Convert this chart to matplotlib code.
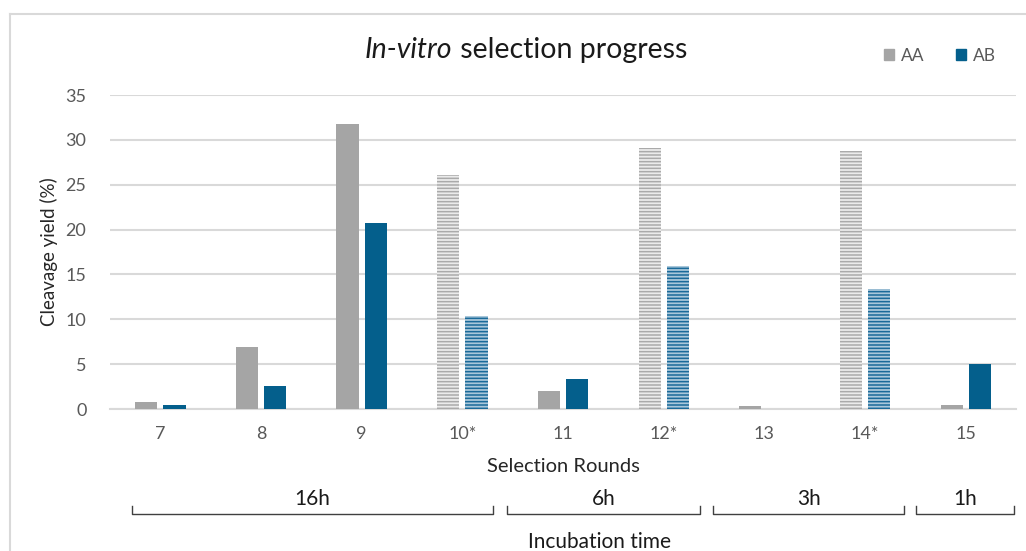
import matplotlib
matplotlib.use("Agg")
import matplotlib.pyplot as plt
import matplotlib.transforms as mtransforms
from matplotlib.lines import Line2D
import numpy as np

# ---- data ----
rounds = ["7", "8", "9", "10*", "11", "12*", "13", "14*", "15"]
aa_values = [0.8, 6.9, 31.8, 26.1, 2.0, 29.1, 0.3, 28.8, 0.45]
ab_values = [0.45, 2.55, 20.7, 10.4, 3.3, 15.9, 0.0, 13.4, 5.0]
hatched = [False, False, False, True, False, True, False, True, False]
incubation_labels = ["16h", "6h", "3h", "1h"]
y_ticks = [0, 5, 10, 15, 20, 25, 30, 35]

# ---- style ----
FONT = ["Lato", "DejaVu Sans"]
plt.rcParams["font.family"] = FONT
plt.rcParams["hatch.linewidth"] = 1.1
GRID = "#d9d9d9"
AA_COL = "#a5a5a5"
AB_COL = "#045f8c"
AA_HFACE, AA_HLINE = "#ebebeb", "#aaaaaa"
AB_HFACE, AB_HLINE = "#a9c7da", "#1a6a99"
TICK_COL = "#595959"

W, H = 1026, 551
fig = plt.figure(figsize=(W / 100, H / 100), dpi=100)
ax = fig.add_axes([110 / W, (H - 409) / H, (1016 - 110) / W, (409 - 95) / H])

x = np.arange(len(rounds))
bw = 0.22
off = 0.14
for i in range(len(rounds)):
    if hatched[i]:
        ax.bar(x[i] - off, aa_values[i], bw, facecolor=AA_HFACE, edgecolor=AA_HLINE,
               linewidth=0, hatch="-----", zorder=3)
        ax.bar(x[i] + off, ab_values[i], bw, facecolor=AB_HFACE, edgecolor=AB_HLINE,
               linewidth=0, hatch="-----", zorder=3)
    else:
        ax.bar(x[i] - off, aa_values[i], bw, color=AA_COL, linewidth=0, zorder=3)
        ax.bar(x[i] + off, ab_values[i], bw, color=AB_COL, linewidth=0, zorder=3)

ax.set_xlim(-0.5, len(rounds) - 0.5)
ax.set_ylim(0, 35)
ax.set_yticks(y_ticks)
ax.set_xticks(x)
ax.set_xticklabels(rounds)
ax.grid(axis="y", color=GRID, linewidth=1.5, zorder=0)
ax.set_axisbelow(True)
for s in ["top", "right", "left"]:
    ax.spines[s].set_visible(False)
ax.spines["bottom"].set_color(GRID)
ax.spines["bottom"].set_linewidth(1.5)
ax.tick_params(axis="both", length=0, labelsize=13, colors=TICK_COL)
ax.tick_params(axis="y", pad=17)
ax.tick_params(axis="x", pad=12)
ax.set_ylabel("Cleavage yield (%)", fontsize=13.5, color="#262626", labelpad=5)
ax.set_xlabel("Selection Rounds", fontsize=14.5, color="#262626", labelpad=12)

# chart frame
fig.add_artist(Line2D([10 / W, 10 / W], [0, 1 - 14 / H], transform=fig.transFigure,
                      color=GRID, linewidth=1.5))
fig.add_artist(Line2D([10 / W, 1], [1 - 14 / H, 1 - 14 / H], transform=fig.transFigure,
                      color=GRID, linewidth=1.5))

# incubation brackets (x in data units, y in figure units)
trans = mtransforms.blended_transform_factory(ax.transData, fig.transFigure)
spans = [(-0.28, 3.30), (3.44, 5.36), (5.49, 7.39), (7.51, 8.48)]
y_line = 1 - 514 / H
y_tick = 1 - 506 / H
for (x0, x1), lab in zip(spans, incubation_labels):
    fig.add_artist(Line2D([x0, x0, x1, x1], [y_tick, y_line, y_line, y_tick],
                          transform=trans, color="#404040", linewidth=1.0))
    fig.text((x0 + x1) / 2, 1 - 499 / H, lab, transform=trans, ha="center",
             va="center", fontsize=15, color="#1a1a1a")
fig.text(600 / W, 1 - 542 / H, "Incubation time", ha="center", va="center",
         fontsize=15, color="#1a1a1a")

# title with italic part
fig.canvas.draw()
r = fig.canvas.get_renderer()
ty = 1 - 50 / H
t1 = fig.text(0, ty, "In-vitro", style="italic", fontsize=20.5, ha="left", va="center",
              color="#1a1a1a")
t2 = fig.text(0, ty, " selection progress", fontsize=20.5, ha="left", va="center",
              color="#1a1a1a")
w1 = t1.get_window_extent(r).width
w2 = t2.get_window_extent(r).width
cx = 526
start = cx - (w1 + w2) / 2
t1.set_x(start / W)
t2.set_x((start + w1) / W)

# legend
leg_handles = [plt.Rectangle((0, 0), 1, 1, color=AA_COL), plt.Rectangle((0, 0), 1, 1, color=AB_COL)]
fig.legend(leg_handles, ["AA", "AB"], loc="center", bbox_to_anchor=(940 / W, 1 - 56 / H),
           ncol=2, frameon=False, fontsize=12.5, handlelength=0.6, handleheight=0.6,
           handletextpad=0.4, columnspacing=1.8, labelcolor=TICK_COL)

fig.savefig("out.png", dpi=100)
